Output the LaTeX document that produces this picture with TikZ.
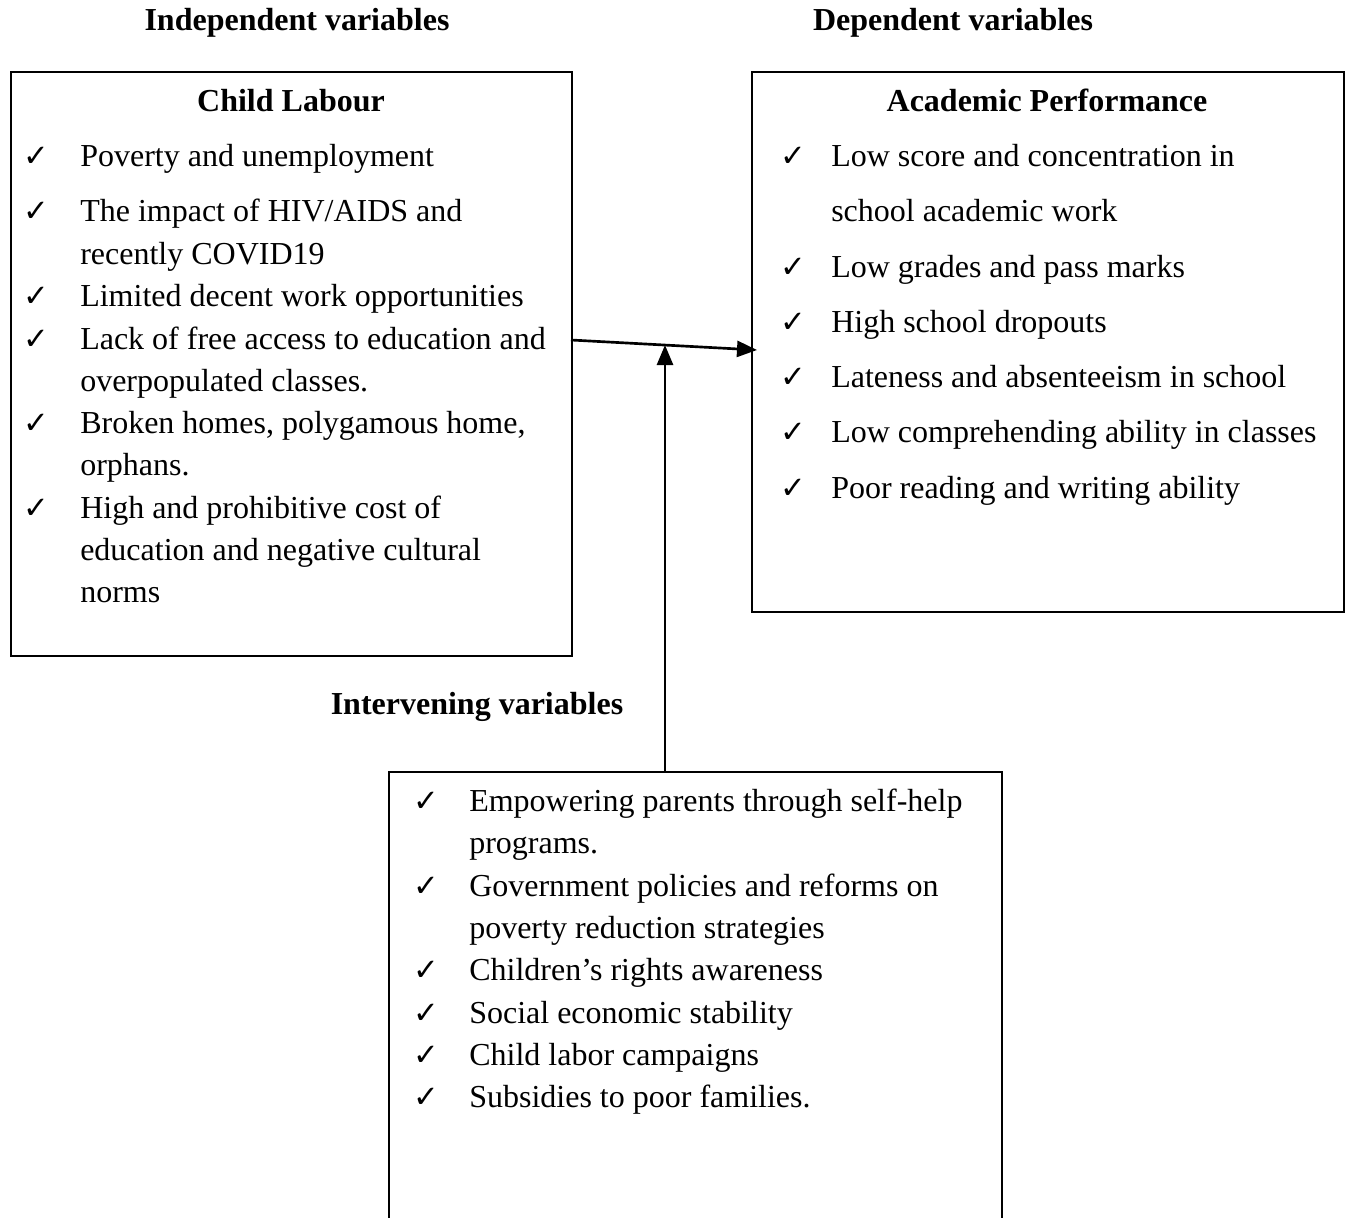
\documentclass[tikz,border=0pt]{standalone}
\usepackage{fontspec}
\setmainfont{Liberation Serif}
\newfontfamily\dejavu{DejaVu Sans}
\usetikzlibrary{arrows.meta}
\begin{document}
\begin{tikzpicture}[x=0.75pt,y=-0.75pt,
  box/.style={draw, line width=1.5pt, anchor=north west, inner sep=0pt},
  txt/.style={anchor=base west, inner sep=0pt, font=\fontsize{24}{29}\selectfont},
  hdr/.style={anchor=base, inner sep=0pt, font=\fontsize{24}{29}\selectfont\bfseries},
  chk/.style={anchor=base west, inner sep=0pt, font=\fontsize{23}{26}\dejavu},
  arr/.style={line width=2pt, -{Triangle[length=15pt,width=12pt]}}]
\useasboundingbox (0,0) rectangle (1348,1217);
\clip (0,0) rectangle (1348,1217);
\fill[white] (0,0) rectangle (1348,1217);
% boxes
\node[box, minimum width=420.75pt, minimum height=438pt] (lbox) at (10,71) {};
\node[box, minimum width=444pt, minimum height=405pt] (rbox) at (751,71) {};
\node[box, minimum width=459.75pt, minimum height=360pt] (bbox) at (388,771) {};
% headers
\node[hdr] (h1) at (297,31) {Independent variables};
\node[hdr] (h2) at (953,31) {Dependent variables};
\node[hdr] (h3) at (477,714) {Intervening variables};
\node[hdr] (t1) at (291,111) {Child Labour};
\node[hdr] (t2) at (1047,111) {Academic Performance};
% left items
\foreach \n/\y in {1/166,2/221,3/306,4/349,5/433,6/518}{\node[chk] (lc\n) at (23,\y) {✓};}
\node[txt] (l1) at (80,166) {Poverty and unemployment};
\node[txt] (l2) at (80,221) {The impact of HIV/AIDS and};
\node[txt] (l2b) at (80,264) {recently COVID19};
\node[txt] (l3) at (80,306) {Limited decent work opportunities};
\node[txt] (l4) at (80,349) {Lack of free access to education and};
\node[txt] (l4b) at (80,391) {overpopulated classes.};
\node[txt] (l5) at (80,433) {Broken homes, polygamous home,};
\node[txt] (l5b) at (80,475) {orphans.};
\node[txt] (l6) at (80,518) {High and prohibitive cost of};
\node[txt] (l6b) at (80,560) {education and negative cultural};
\node[txt] (l6c) at (80,602) {norms};
% right items
\foreach \n/\y in {1/166,2/277,3/332,4/387,5/442,6/498}{\node[chk] (rc\n) at (780,\y) {✓};}
\node[txt] (r1) at (831,166) {Low score and concentration in};
\node[txt] (r1b) at (831,221) {school academic work};
\node[txt] (r2) at (831,277) {Low grades and pass marks};
\node[txt] (r3) at (831,332) {High school dropouts};
\node[txt] (r4) at (831,387) {Lateness and absenteeism in school};
\node[txt] (r5) at (831,442) {Low comprehending ability in classes};
\node[txt] (r6) at (831,498) {Poor reading and writing ability};
% bottom items
\foreach \n/\y in {1/811,2/896,3/980,4/1023,5/1065,6/1107}{\node[chk] (bc\n) at (413,\y) {✓};}
\node[txt] (b1) at (469,811) {Empowering parents through self-help};
\node[txt] (b1b) at (469,853) {programs.};
\node[txt] (b2) at (469,896) {Government policies and reforms on};
\node[txt] (b2b) at (469,938) {poverty reduction strategies};
\node[txt] (b3) at (469,980) {Children’s rights awareness};
\node[txt] (b4) at (469,1023) {Social economic stability};
\node[txt] (b5) at (469,1065) {Child labor campaigns};
\node[txt] (b6) at (469,1107) {Subsidies to poor families.};
% connectors
\coordinate (hs) at (571,340);
\coordinate (he) at (757,350);
\coordinate (vs) at (665,771);
\coordinate (ve) at (665,345);
\draw[arr] (hs) -- (he);
\draw[arr] (vs) -- (ve);
\end{tikzpicture}
\end{document}
